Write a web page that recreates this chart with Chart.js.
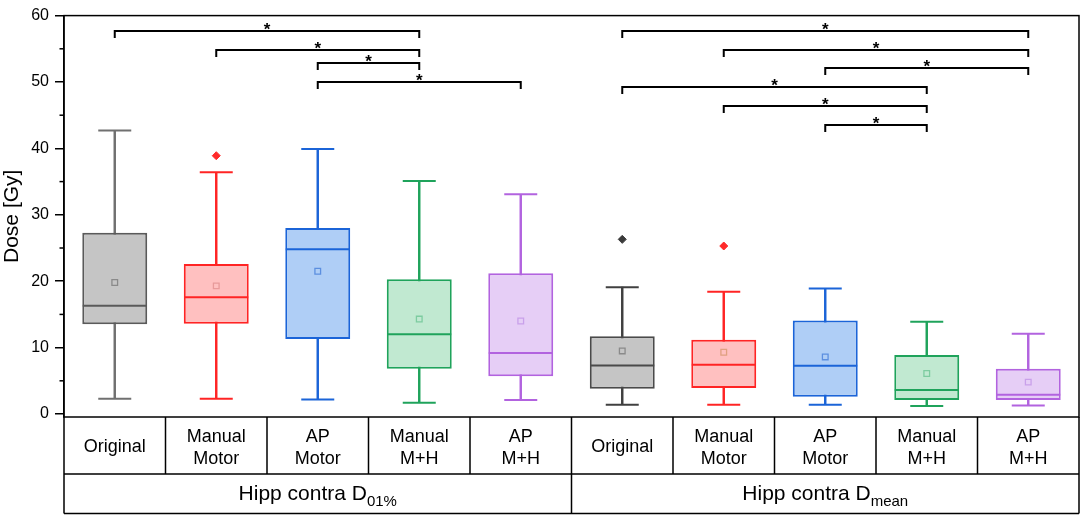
<!DOCTYPE html>
<html>
<head>
<meta charset="utf-8">
<script src="https://cdn.jsdelivr.net/npm/chart.js@4.4.1/dist/chart.umd.min.js"></script>
<style>
  html, body { margin: 0; padding: 0; background: #fff; }
  #wrap { width: 1084px; height: 518px; }
</style>
</head>
<body>
<div id="wrap"><canvas id="chartDose"></canvas></div>
<script>
const categories = ['Original', 'Manual\nMotor', 'AP\nMotor', 'Manual\nM+H', 'AP\nM+H',
                    'Original', 'Manual\nMotor', 'AP\nMotor', 'Manual\nM+H', 'AP\nM+H'];
const groupLabels = [['Hipp contra D', '01%'], ['Hipp contra D', 'mean']];

const whiskerLow  = [2.3, 2.3, 2.2, 1.7, 2.1, 1.4, 1.4, 1.4, 1.2, 1.3];
const q1          = [13.5, 13.6, 11.3, 6.8, 5.7, 3.8, 3.9, 2.6, 2.1, 2.1];
const median      = [16.3, 17.6, 24.8, 12.0, 9.2, 7.3, 7.4, 7.25, 3.6, 2.9];
const q3          = [27.3, 22.6, 28.0, 20.3, 21.2, 11.7, 11.2, 14.1, 8.9, 6.8];
const whiskerHigh = [42.7, 36.4, 39.9, 35.1, 33.1, 19.1, 18.4, 18.9, 13.9, 12.1];
const means       = [19.8, 19.3, 21.5, 14.3, 14.0, 9.5, 9.3, 8.6, 6.1, 4.8];
const outliers    = [null, 38.9, null, null, null, 26.3, 25.3, null, null, null];

const yTicks = [0, 10, 20, 30, 40, 50, 60];
const yMinorTicks = [5, 15, 25, 35, 45, 55];

// significance brackets (* p < 0.05): from category, to category, height in Gy
const bracketFrom = [0, 1, 2, 2, 5, 6, 7, 5, 6, 7];
const bracketTo   = [3, 3, 3, 4, 9, 9, 9, 8, 8, 8];
const bracketY    = [57.7, 54.8, 52.8, 50.05, 57.7, 54.8, 52.05, 49.2, 46.4, 43.5];

// colours
const lineColors  = ['#5a5a5a', '#ff2424', '#1b64d8', '#1fa35b', '#b263df',
                     '#4a4a4a', '#ff2424', '#1b64d8', '#1fa35b', '#b263df'];
const whiskColors = ['#707070', '#ff2424', '#1b64d8', '#1fa35b', '#b263df',
                     '#404040', '#ff2424', '#1b64d8', '#1fa35b', '#b263df'];
const fillColors  = ['#c5c5c5', '#ffc0c0', '#afcef6', '#c1e9d1', '#e6cef6',
                     '#c5c5c5', '#ffc0c0', '#afcef6', '#c1e9d1', '#e6cef6'];
const meanColors  = ['#8a8a8a', '#e89a9a', '#5c8fe0', '#7dcca0', '#c9a0ea',
                     '#8a8a8a', '#e0a080', '#5c8fe0', '#7dcca0', '#c9a0ea'];
const outlierColors = ['#333', '#ff2a2a', '#333', '#333', '#333',
                       '#3a3a3a', '#ff2a2a', '#333', '#333', '#333'];

const FONT = '"Liberation Sans", Arial, sans-serif';

const tablePlugin = {
  id: 'boxExtras',
  afterDraw(chart) {
    const { ctx, chartArea: area, scales: { x, y } } = chart;
    ctx.save();

    // minor ticks on the y axis
    ctx.strokeStyle = '#000';
    ctx.lineWidth = 1.5;
    yMinorTicks.forEach(v => {
      const py = y.getPixelForValue(v);
      ctx.beginPath();
      ctx.moveTo(area.left - 4.5, py);
      ctx.lineTo(area.left, py);
      ctx.stroke();
    });

    // plot frame
    ctx.strokeRect(area.left, area.top, area.right - area.left, area.bottom - area.top);

    // significance brackets
    ctx.lineWidth = 2;
    ctx.fillStyle = '#000';
    ctx.font = 'bold 17px ' + FONT;
    ctx.textAlign = 'center';
    ctx.textBaseline = 'alphabetic';
    bracketY.forEach((v, i) => {
      const x1 = x.getPixelForValue(bracketFrom[i]);
      const x2 = x.getPixelForValue(bracketTo[i]);
      const py = Math.round(y.getPixelForValue(v));
      ctx.beginPath();
      ctx.moveTo(x1, py + 7);
      ctx.lineTo(x1, py);
      ctx.lineTo(x2, py);
      ctx.lineTo(x2, py + 7);
      ctx.stroke();
      ctx.fillText('*', (x1 + x2) / 2, py + 4);
    });

    // category table underneath
    const step = x.getPixelForValue(1) - x.getPixelForValue(0);
    const row1Top = area.bottom;
    const row1Bot = 474;
    const row2Bot = 513.5;
    ctx.lineWidth = 1.5;
    ctx.beginPath();
    ctx.moveTo(area.left, row1Bot); ctx.lineTo(area.right, row1Bot);
    ctx.moveTo(area.left, row2Bot); ctx.lineTo(area.right, row2Bot);
    ctx.moveTo(area.left, row1Top); ctx.lineTo(area.left, row2Bot);
    ctx.moveTo(area.right, row1Top); ctx.lineTo(area.right, row2Bot);
    for (let k = 1; k < categories.length; k++) {
      const px = x.getPixelForValue(k) - step / 2;
      ctx.moveTo(px, row1Top);
      ctx.lineTo(px, k === 5 ? row2Bot : row1Bot);
    }
    ctx.stroke();

    ctx.font = '18px ' + FONT;
    ctx.textAlign = 'center';
    categories.forEach((label, i) => {
      const px = x.getPixelForValue(i);
      const lines = label.split('\n');
      if (lines.length === 1) {
        ctx.fillText(lines[0], px, 452);
      } else {
        ctx.fillText(lines[0], px, 441.5);
        ctx.fillText(lines[1], px, 463.5);
      }
    });

    // group labels with subscript
    groupLabels.forEach((g, gi) => {
      const left = x.getPixelForValue(gi * 5) - step / 2;
      const right = x.getPixelForValue(gi * 5 + 4) + step / 2;
      const cx = (left + right) / 2;
      ctx.font = '21px ' + FONT;
      const w1 = ctx.measureText(g[0]).width;
      ctx.font = '15px ' + FONT;
      const w2 = ctx.measureText(g[1]).width;
      const start = cx - (w1 + w2) / 2;
      ctx.textAlign = 'left';
      ctx.font = '21px ' + FONT;
      ctx.fillText(g[0], start, 499.5);
      ctx.font = '15px ' + FONT;
      ctx.fillText(g[1], start + w1, 505.5);
    });

    ctx.restore();
  }
};

const ctx1 = document.getElementById('chartDose').getContext('2d');

new Chart(ctx1, {
  data: {
    labels: categories,
    datasets: [
      {
        type: 'line',
        label: 'Outliers',
        data: outliers,
        showLine: false,
        pointStyle: 'rectRot',
        pointRadius: 4,
        pointBackgroundColor: outlierColors,
        pointBorderColor: outlierColors,
        pointBorderWidth: 1,
        order: 0
      },
      {
        type: 'line',
        label: 'Mean',
        data: means,
        showLine: false,
        pointStyle: 'rect',
        pointRadius: 4,
        pointBackgroundColor: 'rgba(0,0,0,0)',
        pointBorderColor: meanColors,
        pointBorderWidth: 1.3,
        order: 1
      },
      {
        type: 'line',
        label: 'Median',
        data: median,
        showLine: false,
        pointStyle: 'line',
        pointRadius: 32,
        pointBorderColor: lineColors,
        pointBorderWidth: 2,
        order: 2
      },
      {
        type: 'line',
        label: 'Upper whisker',
        data: whiskerHigh,
        showLine: false,
        pointStyle: 'line',
        pointRadius: 16.5,
        pointBorderColor: whiskColors,
        pointBorderWidth: 2,
        order: 3
      },
      {
        type: 'line',
        label: 'Lower whisker',
        data: whiskerLow,
        showLine: false,
        pointStyle: 'line',
        pointRadius: 16.5,
        pointBorderColor: whiskColors,
        pointBorderWidth: 2,
        order: 3
      },
      {
        type: 'bar',
        label: 'IQR',
        data: categories.map((_, i) => [q1[i], q3[i]]),
        backgroundColor: fillColors,
        borderColor: lineColors,
        borderWidth: 2,
        borderSkipped: false,
        barPercentage: 0.64,
        categoryPercentage: 1,
        grouped: false,
        order: 4
      },
      {
        type: 'bar',
        label: 'Range',
        data: categories.map((_, i) => [whiskerLow[i], whiskerHigh[i]]),
        backgroundColor: whiskColors,
        borderWidth: 0,
        barThickness: 1.8,
        grouped: false,
        order: 5
      }
    ]
  },
  options: {
    responsive: true,
    maintainAspectRatio: false,
    animation: false,
    layout: { autoPadding: false, padding: { top: 11.5, right: 5, bottom: 101, left: 0 } },
    plugins: {
      legend: { display: false },
      tooltip: { enabled: false }
    },
    scales: {
      x: {
        type: 'category',
        display: false,
        offset: true
      },
      y: {
        min: -0.45,
        max: 60,
        afterBuildTicks: s => { s.ticks = yTicks.map(v => ({ value: v })); },
        afterFit: s => { s.width = 64; },
        border: { display: true, color: '#000', width: 1.5 },
        grid: {
          display: true,
          drawOnChartArea: false,
          drawTicks: true,
          tickLength: 9,
          color: '#000',
          lineWidth: 1.5
        },
        ticks: {
          padding: 6,
          color: '#000',
          font: { family: FONT, size: 16 }
        },
        title: {
          display: true,
          text: 'Dose [Gy]',
          color: '#000',
          padding: { top: 0, bottom: 0 },
          font: { family: FONT, size: 21 }
        }
      }
    }
  },
  plugins: [tablePlugin]
});
</script>
</body>
</html>
